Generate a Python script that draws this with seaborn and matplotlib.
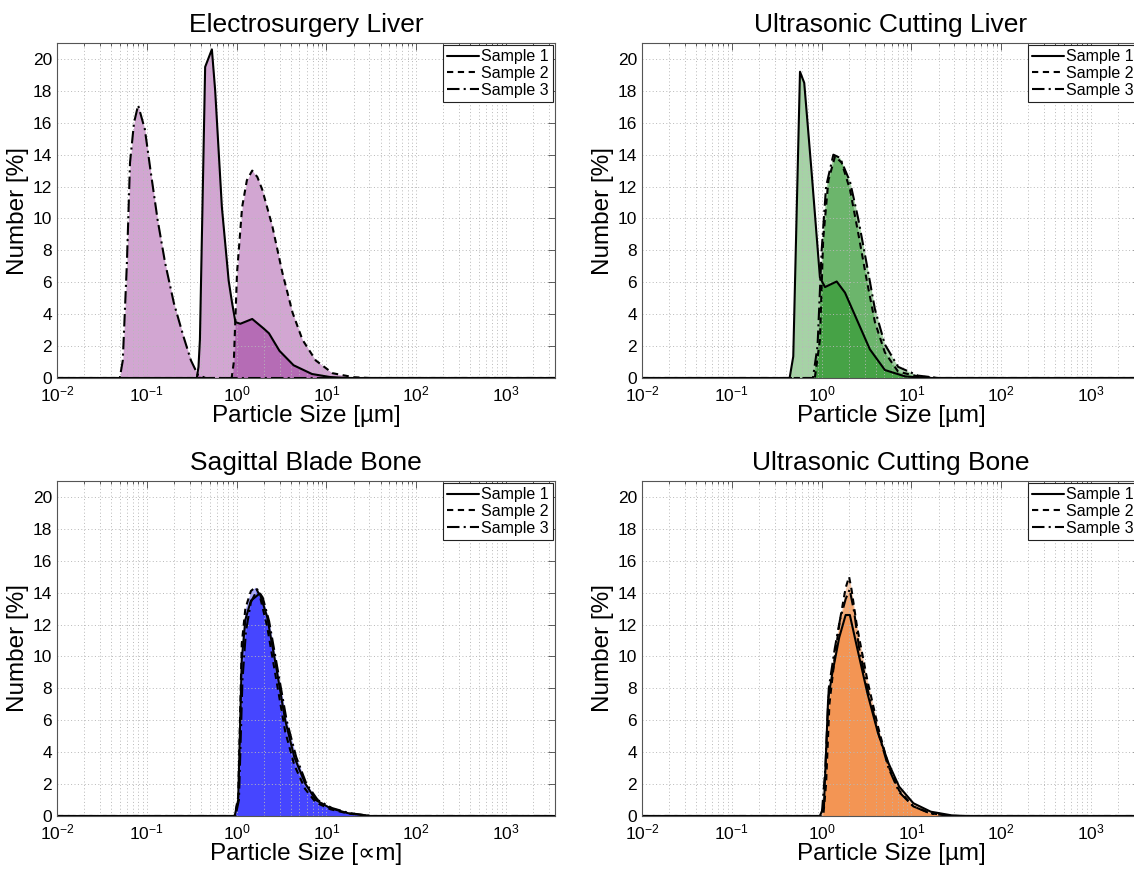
import numpy as np
import pandas as pd
import seaborn as sns
import matplotlib.pyplot as plt
from matplotlib.lines import Line2D
from matplotlib.ticker import LogLocator, MultipleLocator, NullFormatter

# --- Electrosurgery Liver ---
esl_size_1 = [0.01, 0.36, 0.376, 0.39, 0.446, 0.53, 0.577, 0.685, 0.815, 0.89, 0.97, 1.1, 1.49, 2.0, 2.29, 3.0, 4.3, 6.9, 11, 17, 3500]
esl_num_1 = [0, 0, 0.7, 2.4, 19.5, 20.6, 18.0, 10.7, 6.1, 4.7, 3.5, 3.4, 3.7, 3.1, 2.8, 1.7, 0.8, 0.25, 0.06, 0, 0]
esl_size_2 = [0.01, 0.88, 0.93, 1.01, 1.15, 1.3, 1.49, 1.7, 1.93, 2.5, 3.23, 4.19, 5.4, 7.6, 11.7, 20, 30, 3500]
esl_num_2 = [0, 0, 1.0, 6.6, 10.7, 12.4, 13.0, 12.6, 11.8, 9.5, 6.6, 4.1, 2.4, 1.1, 0.3, 0.05, 0, 0]
esl_size_3 = [0.01, 0.05, 0.054, 0.06, 0.065, 0.072, 0.08, 0.095, 0.11, 0.132, 0.16, 0.20, 0.256, 0.31, 0.37, 0.45, 3500]
esl_num_3 = [0, 0, 1.1, 7.2, 13.5, 16.0, 17.1, 15.6, 13.0, 9.9, 7.2, 4.7, 2.6, 1.1, 0.2, 0, 0]

# --- Ultrasonic Cutting Liver ---
ucl_size_1 = [0.01, 0.44, 0.483, 0.574, 0.64, 0.773, 0.957, 1.09, 1.47, 1.82, 2.55, 3.44, 5.06, 8.5, 14, 3500]
ucl_num_1 = [0, 0, 1.35, 19.2, 18.5, 12.9, 6.3, 5.7, 6.05, 5.35, 3.47, 1.8, 0.5, 0.1, 0, 0]
ucl_size_2 = [0.01, 0.84, 0.957, 1.04, 1.19, 1.41, 1.67, 2.07, 2.55, 3.16, 3.92, 5.06, 7.1, 11.8, 20, 3500]
ucl_num_2 = [0, 0, 2.4, 8.7, 12.4, 13.9, 13.5, 11.8, 9.1, 6.2, 3.5, 1.6, 0.4, 0.1, 0, 0]
ucl_size_3 = [0.01, 0.8, 0.9, 1.0, 1.12, 1.35, 1.6, 2.07, 2.55, 3.16, 3.92, 5.06, 7.1, 11.8, 20, 3500]
ucl_num_3 = [0, 0, 2.0, 8.0, 12.0, 14.0, 13.8, 12.3, 10.0, 7.2, 4.3, 2.1, 0.7, 0.15, 0, 0]

# --- Sagittal Blade Bone ---
sbb_size_1 = [0.01, 0.95, 1.04, 1.14, 1.25, 1.44, 1.81, 2.18, 2.75, 3.47, 4.38, 5.78, 7.6, 11.1, 17.6, 31, 3500]
sbb_num_1 = [0, 0, 1.0, 9.8, 12.3, 13.5, 13.95, 12.5, 9.35, 6.0, 3.7, 2.05, 1.0, 0.48, 0.17, 0, 0]
sbb_size_2 = [0.01, 0.95, 1.04, 1.14, 1.25, 1.44, 1.62, 1.81, 2.18, 2.75, 3.47, 4.38, 5.78, 7.6, 11.1, 17.6, 31, 3500]
sbb_num_2 = [0, 0, 1.2, 10.8, 13.0, 14.1, 14.35, 13.8, 11.9, 8.6, 5.3, 3.2, 1.7, 0.85, 0.42, 0.15, 0, 0]
sbb_size_3 = [0.01, 0.97, 1.06, 1.16, 1.27, 1.44, 1.7, 1.95, 2.3, 2.9, 3.6, 4.6, 6.0, 8.0, 11.5, 18, 32, 3500]
sbb_num_3 = [0, 0, 1.0, 8.5, 11.6, 13.4, 14.2, 13.7, 12.2, 9.0, 6.0, 3.7, 2.0, 1.0, 0.5, 0.18, 0, 0]

# --- Ultrasonic Cutting Bone ---
ucb_size_1 = [0.01, 0.955, 1.06, 1.18, 1.31, 1.57, 1.85, 2.06, 2.47, 3.23, 4.24, 5.56, 7.29, 10.5, 16.4, 28, 40, 3500]
ucb_num_1 = [0, 0, 0.6, 7.3, 8.9, 11.2, 12.6, 12.6, 10.6, 7.7, 5.2, 3.3, 1.84, 0.8, 0.27, 0.04, 0, 0]
ucb_size_2 = [0.01, 1.03, 1.05, 1.12, 1.22, 1.4, 1.6, 1.85, 2.02, 2.15, 2.47, 3.23, 4.24, 5.56, 7.29, 10.5, 16.4, 28, 3500]
ucb_num_2 = [0, 0, 0.2, 2.0, 7.0, 10.0, 12.3, 14.3, 15.0, 14.2, 11.9, 8.5, 5.6, 3.1, 1.6, 0.6, 0.17, 0, 0]
ucb_size_3 = [0.01, 1.0, 1.1, 1.2, 1.4, 1.6, 1.85, 2.05, 2.3, 2.6, 3.23, 4.24, 5.56, 7.29, 10.5, 16.4, 28, 3500]
ucb_num_3 = [0, 0, 3.0, 8.0, 10.5, 12.3, 13.6, 14.2, 12.8, 10.6, 8.0, 5.3, 3.0, 1.5, 0.6, 0.15, 0, 0]

titles = ['Electrosurgery Liver', 'Ultrasonic Cutting Liver', 'Sagittal Blade Bone', 'Ultrasonic Cutting Bone']
xlabels = ['Particle Size [µm]', 'Particle Size [µm]', 'Particle Size [\u221dm]', 'Particle Size [µm]']
fill_colors = ['#800080', '#008000', '#0000ff', '#f06e14']
samples = ['Sample 1', 'Sample 2', 'Sample 3']

panels = [
    [(esl_size_1, esl_num_1), (esl_size_2, esl_num_2), (esl_size_3, esl_num_3)],
    [(ucl_size_1, ucl_num_1), (ucl_size_2, ucl_num_2), (ucl_size_3, ucl_num_3)],
    [(sbb_size_1, sbb_num_1), (sbb_size_2, sbb_num_2), (sbb_size_3, sbb_num_3)],
    [(ucb_size_1, ucb_num_1), (ucb_size_2, ucb_num_2), (ucb_size_3, ucb_num_3)],
]

sns.set_style('white')
plt.rcParams['font.family'] = ['Liberation Sans', 'DejaVu Sans']
plt.rcParams['mathtext.fontset'] = 'custom'
plt.rcParams['mathtext.rm'] = 'Liberation Sans'
plt.rcParams['axes.axisbelow'] = 'line'
for k in ['text.color', 'axes.labelcolor', 'xtick.labelcolor', 'ytick.labelcolor']:
    plt.rcParams[k] = 'black'

dash_map = {'Sample 1': '', 'Sample 2': (3, 2.2), 'Sample 3': (6, 2, 1, 2)}

fig = plt.figure(figsize=(11.34, 8.69), dpi=100)
W, H = 1134, 869
boxes = [(57, 43), (642, 43), (57, 481), (642, 481)]

for i, (data, title, xl, col) in enumerate(zip(panels, titles, xlabels, fill_colors)):
    left, top = boxes[i]
    ax = fig.add_axes([left / W, 1 - (top + 335) / H, 498 / W, 335 / H])

    rows = []
    for name, (sz, nm) in zip(samples, data):
        ax.fill_between(sz, nm, 0, color=col, alpha=0.35, lw=0, zorder=1)
        rows.append(pd.DataFrame({'size': sz, 'number': nm, 'sample': name}))
    df = pd.concat(rows, ignore_index=True)

    sns.lineplot(data=df, x='size', y='number', style='sample', dashes=dash_map,
                 color='k', lw=1.5, estimator=None, sort=False, legend=False, ax=ax)

    ax.set_xscale('log')
    ax.set_xlim(0.01, 3500)
    ax.set_ylim(0, 21)
    ax.yaxis.set_major_locator(MultipleLocator(2))
    ax.xaxis.set_major_locator(LogLocator(base=10, numticks=12))
    ax.xaxis.set_minor_locator(LogLocator(base=10, subs=np.arange(2, 10), numticks=12))
    ax.xaxis.set_minor_formatter(NullFormatter())

    ax.grid(True, which='major', axis='both', ls=(0, (1, 2.5)), color='#b8b8b8', lw=0.7)
    ax.grid(True, which='minor', axis='x', ls=(0, (1, 2.5)), color='#b8b8b8', lw=0.7)
    ax.tick_params(which='both', direction='in', top=True, right=True,
                   labelsize=12.5, color='#444444', width=0.6)
    ax.tick_params(which='major', length=5)
    ax.tick_params(which='minor', length=2.5)
    ax.tick_params(axis='x', which='major', pad=5)
    for sp in ax.spines.values():
        sp.set_color('#555555')
        sp.set_linewidth(0.8)

    ax.set_title(title, fontsize=19, pad=8)
    ax.set_xlabel(xl, fontsize=17.5, labelpad=0)
    ax.set_ylabel('Number [%]', fontsize=17.5, labelpad=3)

    handles = [Line2D([], [], color='k', lw=1.5, dashes=dash_map[s]) if dash_map[s] else
               Line2D([], [], color='k', lw=1.5) for s in samples]
    leg = ax.legend(handles, samples, loc='upper right', fontsize=11.5, frameon=True,
                    fancybox=False, edgecolor='#222222', framealpha=1,
                    borderaxespad=0.15, borderpad=0.25, labelspacing=0.1,
                    handlelength=2.0, handletextpad=0.1)
    leg.get_frame().set_linewidth(0.8)

fig.savefig('out.png', dpi=100)
